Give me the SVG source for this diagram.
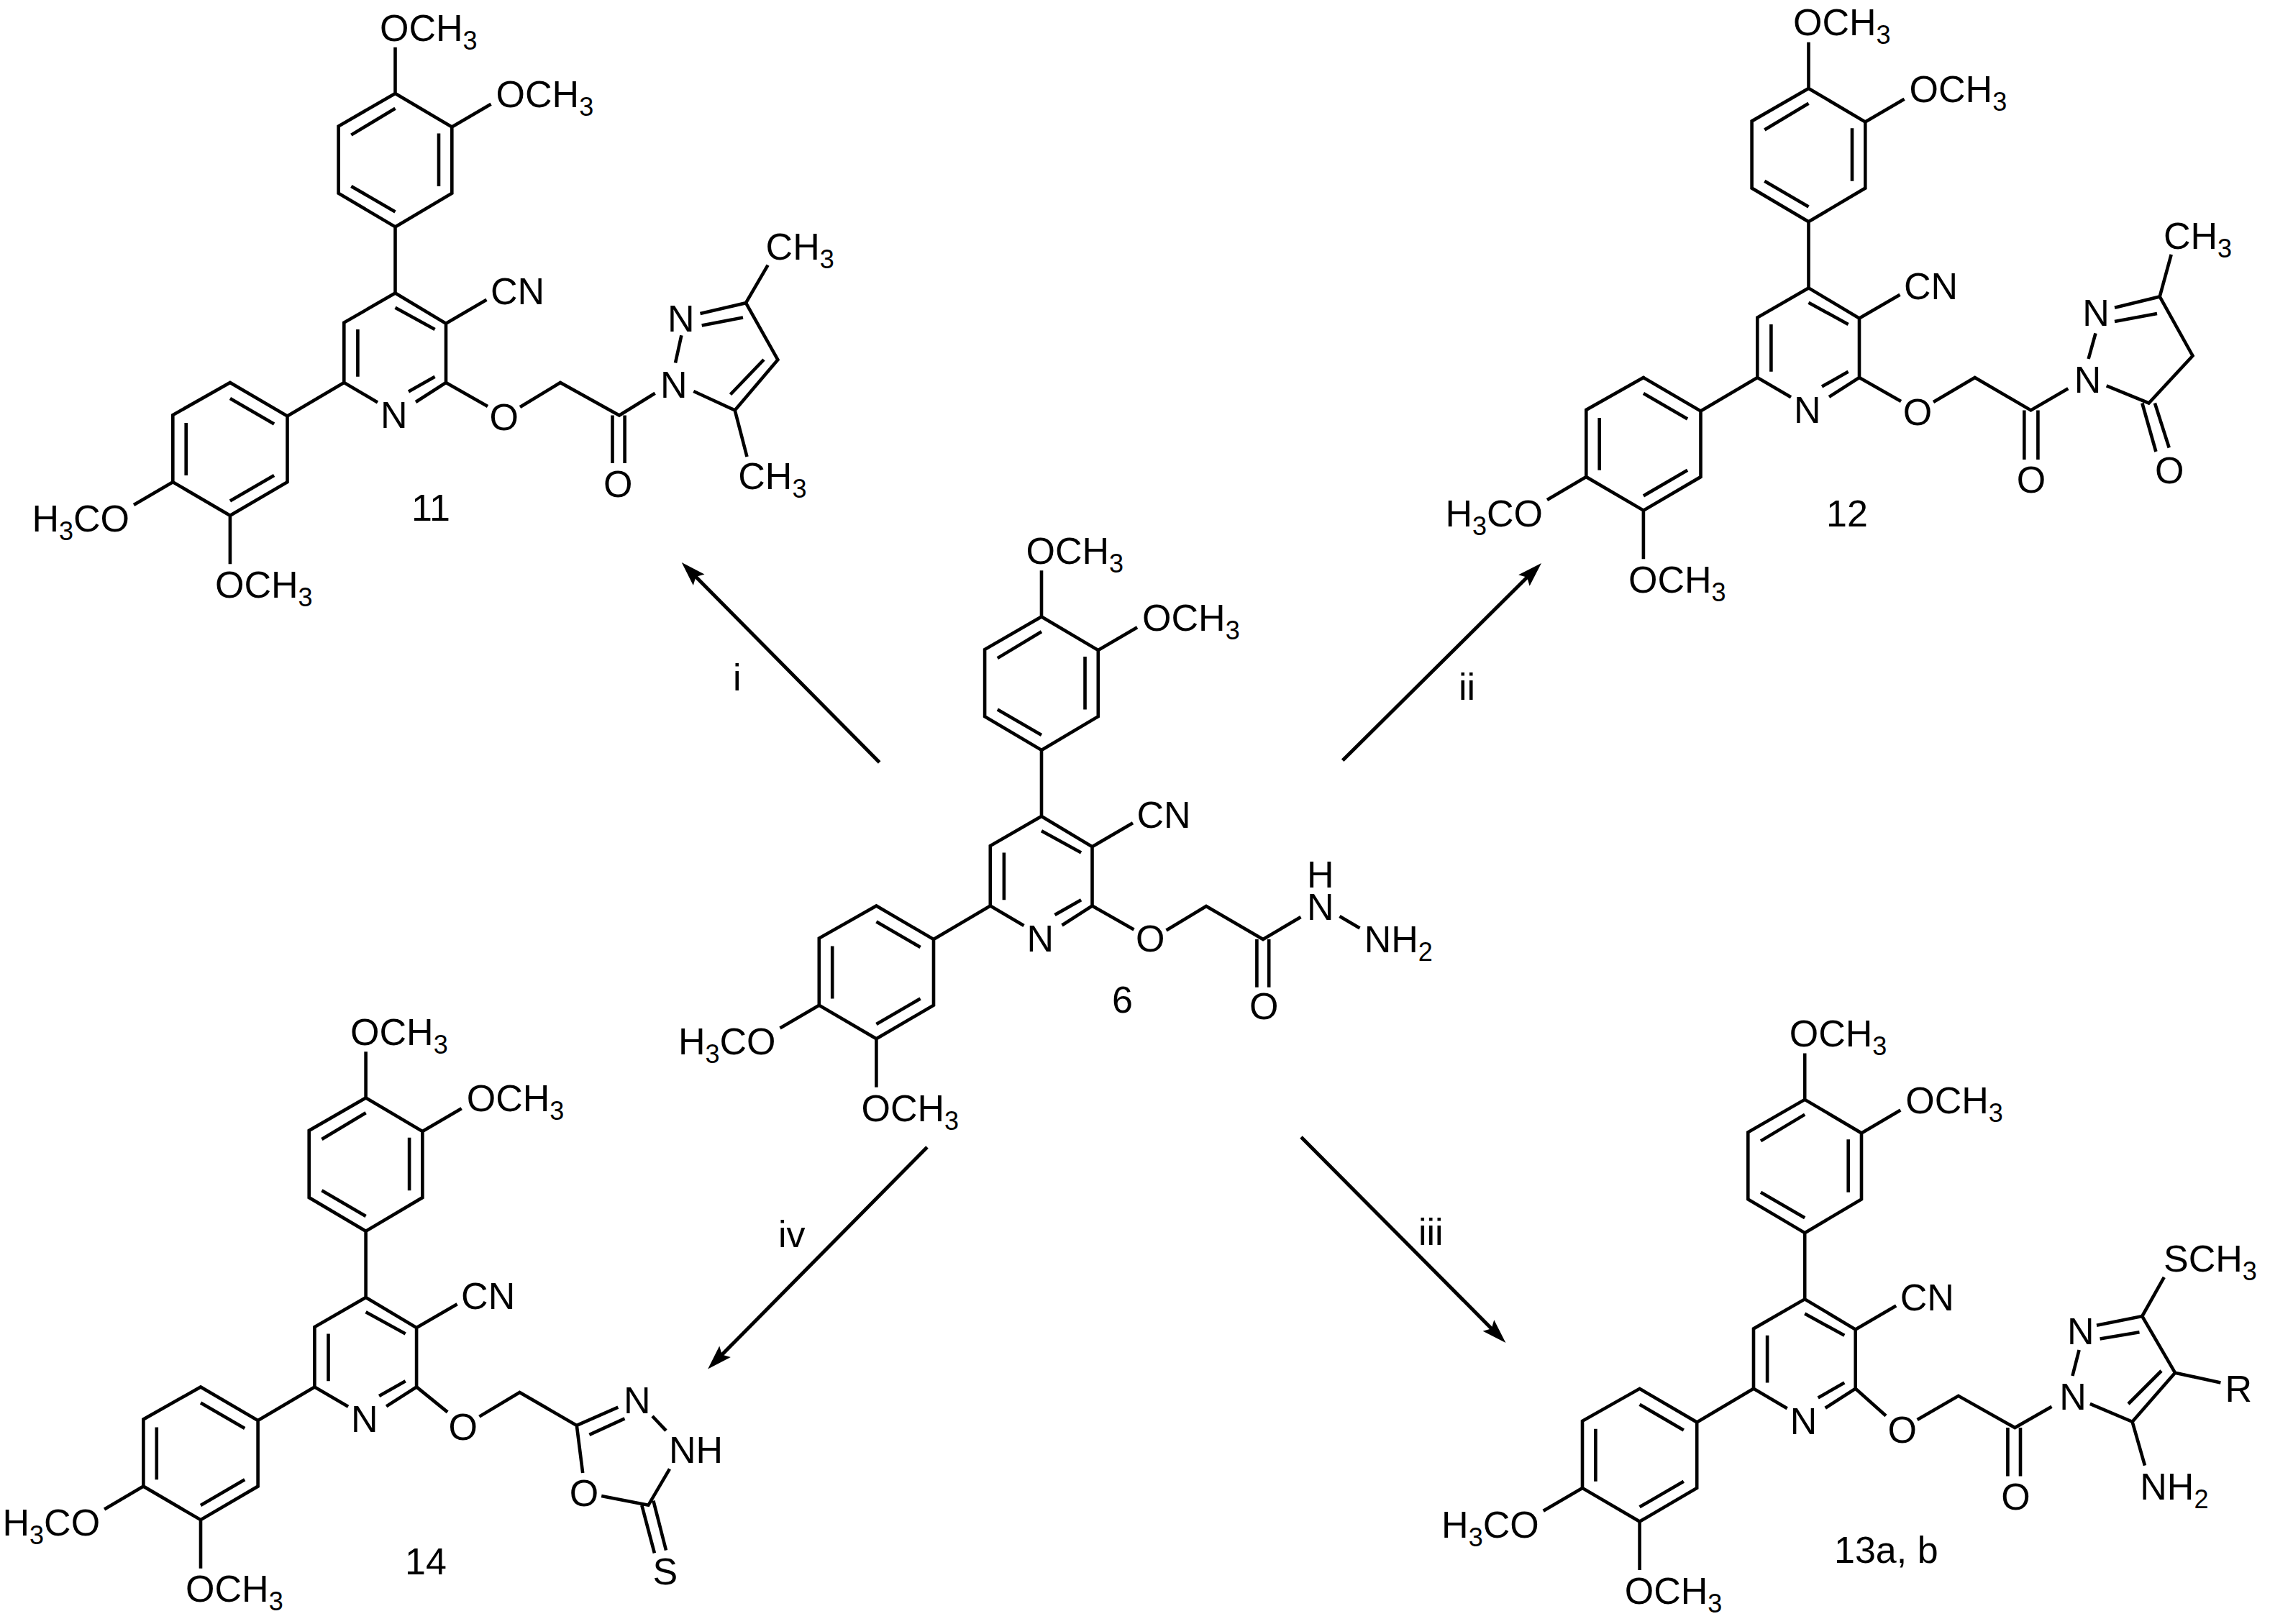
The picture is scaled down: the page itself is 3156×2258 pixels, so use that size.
<svg xmlns="http://www.w3.org/2000/svg" width="3156" height="2258" viewBox="0 0 3156 2258">
<style>
.b{fill:none;stroke:#000;stroke-width:4.6;stroke-linejoin:miter;stroke-linecap:butt}
.a{fill:none;stroke:#000;stroke-width:5;marker-end:url(#arrow)}
text{font-family:"Liberation Sans",Arial,sans-serif;font-size:52px;fill:#000}
.s{font-size:36px}
</style>
<defs>
<marker id="arrow" markerUnits="userSpaceOnUse" viewBox="-15 -12 36 24" markerWidth="36" markerHeight="24" refX="0" refY="0" orient="auto"><path d="M20 0L-14 -11L-8 0L-14 11Z" fill="#000"/></marker>
<path id="core" class="b" d="M549.5 315.4L628.3 268.7V176.6L549.5 130L470.6 175.5V268.7Z M488.3 187.6L549.5 150.8M610 185.4V258.9M488.3 258.9L549.5 294.5 M549.5 315.4V407.5 M549.5 130V65.8M628.3 176.6L682.6 144.8 M525 559.4L478.3 532V448.6L549.5 407.5L620 449.7V532L578 559 M549.5 427.8L604.6 458M497.4 458V523.8M568 544.6L604.6 523.8 M620 449.7L676.5 416.8 M478.3 532L399.5 578.6 M399.5 578.6V670.2L319.9 716.8L240.3 670.2V577L319.9 532Z M319.9 554L381.1 589.6M258.7 588V660.9M319.9 696.5L381.1 660.9 M319.9 716.8V784.3M240.3 670.2L186 702"/>
</defs>
<rect width="3156" height="2258" fill="#fff"/>
<g id="connectors">
<path class="a" d="M1222.7 1060L961.8 796.2"/>
<path class="a" d="M1866.7 1057.3L2128.8 797.1"/>
<path class="a" d="M1809 1581L2079.3 1852.9"/>
<path class="a" d="M1289 1595L998.2 1889.2"/>
<text x="1019" y="960">i</text>
<text x="2028" y="973">ii</text>
<text x="1972" y="1731">iii</text>
<text x="1082" y="1734">iv</text>
</g>
<g id="compound-11">
<use href="#core"/>
<text x="528" y="56.5">OCH<tspan class="s" dy="12">3</tspan></text>
<text x="689.6" y="149">OCH<tspan class="s" dy="12">3</tspan></text>
<text x="682" y="423.4">CN</text>
<text x="529" y="595">N</text>
<text x="44.4" y="738.8">H<tspan class="s" dy="12">3</tspan><tspan dy="-12">CO</tspan></text>
<text x="299" y="831">OCH<tspan class="s" dy="12">3</tspan></text>
<path class="b" d="M620 532L678 565M723 566L779 532L861 577.5L910.7 546.8M851.5 577.5V644M868.6 577.5V644M939 504.6L947.4 466.2M973.5 436L1037 421.2L1081.4 500.2L1021.7 570.4L964.3 544M975.7 452.5L1033 441.5M1062 500L1015.5 548.5M1037 421.2L1067.6 368.6M1021.7 570.4L1038.5 635"/>
<text x="680.4" y="597.8">O</text>
<text x="839" y="691">O</text>
<text x="918" y="552.8">N</text>
<text x="928" y="460.7">N</text>
<text x="1064.6" y="361">CH<tspan class="s" dy="12">3</tspan></text>
<text x="1026.3" y="680">CH<tspan class="s" dy="12">3</tspan></text>
<text x="572" y="724">11</text>
</g>
<g id="compound-6">
<g transform="translate(898.5 727.5)">
<use href="#core"/>
<text x="528" y="56.5">OCH<tspan class="s" dy="12">3</tspan></text>
<text x="689.6" y="149">OCH<tspan class="s" dy="12">3</tspan></text>
<text x="682" y="423.4">CN</text>
<text x="529" y="595">N</text>
<text x="44.4" y="738.8">H<tspan class="s" dy="12">3</tspan><tspan dy="-12">CO</tspan></text>
<text x="299" y="831">OCH<tspan class="s" dy="12">3</tspan></text>
</g>
<path class="b" d="M1518.5 1259.5L1576.5 1292.5M1621.5 1293.5L1677 1260L1756 1306L1808.5 1275M1747.4 1306V1372.7M1764.2 1306V1372.7M1862.5 1274L1890.5 1290.4"/>
<text x="1579" y="1323">O</text>
<text x="1737" y="1416.5">O</text>
<text x="1817" y="1234">H</text>
<text x="1817" y="1279.4">N</text>
<text x="1896.7" y="1324.4">NH<tspan class="s" dy="12">2</tspan></text>
<text x="1546" y="1408">6</text>
</g>
<g id="compound-12">
<g transform="translate(1965 -7.1)">
<use href="#core"/>
<text x="528" y="56.5">OCH<tspan class="s" dy="12">3</tspan></text>
<text x="689.6" y="149">OCH<tspan class="s" dy="12">3</tspan></text>
<text x="682" y="423.4">CN</text>
<text x="529" y="595">N</text>
<text x="44.4" y="738.8">H<tspan class="s" dy="12">3</tspan><tspan dy="-12">CO</tspan></text>
<text x="299" y="831">OCH<tspan class="s" dy="12">3</tspan></text>
<path class="b" d="M620 532L678 565"/>
</g>
<path class="b" d="M2688 559L2745.7 524.9L2823.5 570.4L2875.3 540.2M2814.3 570.4V639M2833.4 570.4V639M2903.6 499L2913.5 463.4M2940 427.8L3002.7 412.4L3048.5 494.7L2987.5 560.5L2928.7 536.4M2940 447L2999 436M3002.7 412.4L3018.7 353.8M2978.3 560.5L2997.4 628M2995.9 560.5L3015.7 622.5"/>
<text x="2645.8" y="591.2">O</text>
<text x="2803.7" y="684.5">O</text>
<text x="2883.8" y="545.7">N</text>
<text x="2895.2" y="453">N</text>
<text x="3008" y="345.5">CH<tspan class="s" dy="12">3</tspan></text>
<text x="2995.9" y="671.9">O</text>
<text x="2539" y="732">12</text>
</g>
<g id="compound-13">
<g transform="translate(1959.7 1398.8)">
<use href="#core"/>
<text x="528" y="56.5">OCH<tspan class="s" dy="12">3</tspan></text>
<text x="689.6" y="149">OCH<tspan class="s" dy="12">3</tspan></text>
<text x="682" y="423.4">CN</text>
<text x="529" y="595">N</text>
<text x="44.4" y="738.8">H<tspan class="s" dy="12">3</tspan><tspan dy="-12">CO</tspan></text>
<text x="299" y="831">OCH<tspan class="s" dy="12">3</tspan></text>
</g>
<path class="b" d="M2580 1931L2622 1968.5M2665.6 1974L2722.8 1940.8L2801.3 1985L2852.5 1955.7M2791.4 1985V2052.6M2809 1985V2052.6M2881.4 1913L2890.6 1877M2915 1842.8L2978.3 1830L3024 1908.7L2964.6 1976.8L2905.8 1951.9M2919.6 1861.6L2974.5 1852.2M3005 1906L2959 1952M2978.3 1830L3008.8 1775.8M3024 1908.7L3087.4 1922.5M2964.6 1976.8L2982 2037.7"/>
<text x="2624.4" y="2006">O</text>
<text x="2782.3" y="2098.5">O</text>
<text x="2863.2" y="1960">N</text>
<text x="2873.9" y="1868.8">N</text>
<text x="3008" y="1768">SCH<tspan class="s" dy="12">3</tspan></text>
<text x="3093.5" y="1949">R</text>
<text x="2975.3" y="2084.7">NH<tspan class="s" dy="12">2</tspan></text>
<text x="2550" y="2173.3">13a, b</text>
</g>
<g id="compound-14">
<g transform="translate(-40.9 1396.4)">
<use href="#core"/>
<text x="528" y="56.5">OCH<tspan class="s" dy="12">3</tspan></text>
<text x="689.6" y="149">OCH<tspan class="s" dy="12">3</tspan></text>
<text x="682" y="423.4">CN</text>
<text x="529" y="595">N</text>
<text x="44.4" y="738.8">H<tspan class="s" dy="12">3</tspan><tspan dy="-12">CO</tspan></text>
<text x="299" y="831">OCH<tspan class="s" dy="12">3</tspan></text>
</g>
<path class="b" d="M579.1 1928.4L622.2 1963.4M666.4 1969.6L722.5 1936L801.8 1981.9L859.3 1956.7M819.4 1994.8L868.5 1972.4M907 1969L926 1989.2M931 2042.4L901.4 2092.8L836.2 2079.9M810.2 2048L801.8 1981.9M892.3 2092.8L909.9 2159.4M908.4 2086.6L926 2155.5"/>
<text x="623.5" y="2001.5">O</text>
<text x="866.9" y="1965">N</text>
<text x="930" y="2034">NH</text>
<text x="791.8" y="2093.9">O</text>
<text x="907.5" y="2203">S</text>
<text x="563" y="2189">14</text>
</g>
</svg>
